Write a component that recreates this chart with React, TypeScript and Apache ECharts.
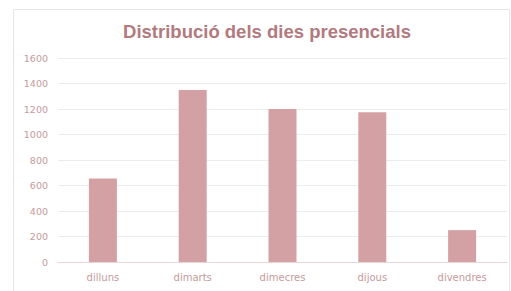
import React, { useEffect, useRef } from "react";
import * as echarts from "echarts";

const categories = ["dilluns", "dimarts", "dimecres", "dijous", "divendres"];
const values = [655, 1350, 1200, 1175, 250];
const yTicks = [0, 200, 400, 600, 800, 1000, 1200, 1400, 1600];
const titleText = "Distribució dels dies presencials";

export default function App() {
  const ref = useRef<HTMLDivElement>(null);
  useEffect(() => {
    if (!ref.current) return;
    const chart = echarts.init(ref.current, null, { renderer: "svg" });
    chart.setOption({
      animation: false,
      backgroundColor: "#ffffff",
      graphic: [
        {
          type: "rect",
          shape: { x: 13.5, y: 9.5, width: 496, height: 290 },
          style: { fill: "none", stroke: "#e6e6e6", lineWidth: 1 },
          silent: true,
        },
        {
          type: "text",
          x: 267,
          y: 31,
          style: {
            text: titleText,
            align: "center",
            verticalAlign: "middle",
            fontFamily: "Liberation Sans, Arial, sans-serif",
            fontSize: 18.5,
            fontWeight: "bold",
            fill: "#b27a7e",
          },
          silent: true,
        },
      ],
      grid: { left: 58, right: 4, top: 58, bottom: 29 },
      xAxis: {
        type: "category",
        data: categories,
        axisLine: { lineStyle: { color: "#ead6d6" } },
        axisTick: { show: false },
        axisLabel: {
          color: "#c49a9c",
          fontSize: 10,
          fontFamily: "DejaVu Sans, sans-serif",
          margin: 10,
        },
      },
      yAxis: {
        type: "value",
        min: yTicks[0],
        max: yTicks[yTicks.length - 1],
        interval: 200,
        axisLine: { show: false },
        axisTick: { show: false },
        axisLabel: {
          color: "#c49a9c",
          fontSize: 9.5,
          fontFamily: "DejaVu Sans, sans-serif",
          margin: 10,
          formatter: (v: number) => String(v),
        },
        splitLine: { lineStyle: { color: "#ececec" } },
      },
      series: [
        {
          type: "bar",
          data: values,
          barWidth: 28,
          itemStyle: { color: "#d3a1a3" },
        },
      ],
    });
    return () => chart.dispose();
  }, []);
  return (
    <div
      ref={ref}
      style={{ position: "absolute", left: 0, top: 0, width: 511, height: 291 }}
    />
  );
}
